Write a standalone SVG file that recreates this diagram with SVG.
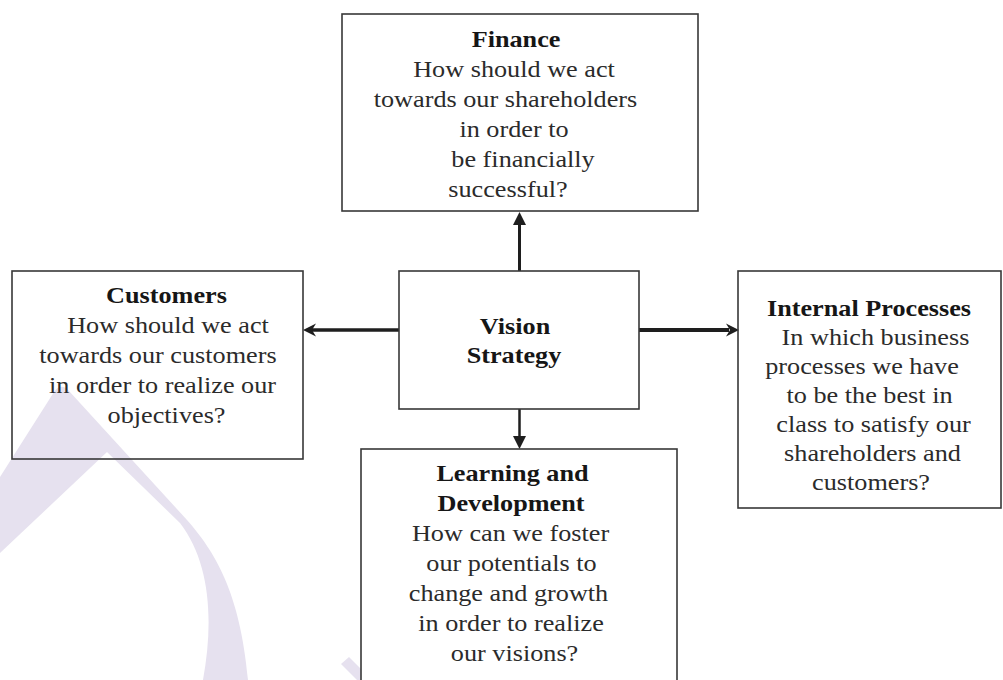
<svg xmlns="http://www.w3.org/2000/svg" width="1003" height="680" viewBox="0 0 1003 680">
<style>
.box{fill:none;stroke:#383838;stroke-width:1.6}
.t{font-family:"Liberation Serif","Times New Roman",serif;font-size:23px;fill:#2b2b2b;text-anchor:middle}
.b{font-weight:bold;fill:#161616}
.wm{fill:#e6e1ef}
.ln{stroke:#1e1e1e;fill:none}
.hd{fill:#1e1e1e}
</style>
<rect width="1003" height="680" fill="#ffffff"/>
<g id="watermark">
<path class="wm" d="M0 477 L54 392 Q61 382 69 391 L187 520 C215 552 240 592 248 680 L203 680 C214 620 210 562 180 523 L107 452 L0 553 Z"/>
<polygon class="wm" points="341,664 349,657 361,669 361,680 357,680"/>
</g>
<g id="connectors">
<line class="ln" x1="519.5" y1="271" x2="519.5" y2="222" stroke-width="3"/>
<polygon class="hd" points="519.5,212 513,225 526,225"/>
<line class="ln" x1="399" y1="330" x2="312" y2="330" stroke-width="3.5"/>
<polygon class="hd" points="303,330 316,323.5 312,330 316,336.5"/>
<line class="ln" x1="639" y1="330" x2="729" y2="330" stroke-width="4"/>
<polygon class="hd" points="739,330 726,323.5 730,330 726,336.5"/>
<line class="ln" x1="519.5" y1="409" x2="519.5" y2="438" stroke-width="2.5"/>
<polygon class="hd" points="519.5,449 513,436 526,436"/>
</g>
<g id="finance">
<rect class="box" x="342" y="14" width="356" height="197"/>
<g transform="translate(514,0) scale(1.14,1)">
<text class="t b" x="1.8" y="47">Finance</text>
<text class="t" x="0" y="77">How should we act</text>
<text class="t" x="-7.5" y="107">towards our shareholders</text>
<text class="t" x="0" y="137">in order to</text>
<text class="t" x="7.9" y="167">be financially</text>
<text class="t" x="-5.3" y="197">successful?</text>
</g>
</g>
<g id="customers">
<rect class="box" x="12" y="271" width="291" height="188"/>
<g transform="translate(164,0) scale(1.14,1)">
<text class="t b" x="2.2" y="303">Customers</text>
<text class="t" x="3.5" y="333">How should we act</text>
<text class="t" x="-5.3" y="363">towards our customers</text>
<text class="t" x="-1.3" y="393">in order to realize our</text>
<text class="t" x="2.2" y="423">objectives?</text>
</g>
</g>
<g id="vision">
<rect class="box" x="399" y="271" width="240" height="138"/>
<g transform="translate(515,0) scale(1.14,1)">
<text class="t b" x="0" y="334">Vision</text>
<text class="t b" x="-0.9" y="363">Strategy</text>
</g>
</g>
<g id="internal">
<rect class="box" x="738" y="271" width="263" height="237"/>
<g transform="translate(870,0) scale(1.14,1)">
<text class="t b" x="-0.9" y="316">Internal Processes</text>
<text class="t" x="4.8" y="345">In which business</text>
<text class="t" x="-7" y="374">processes we have</text>
<text class="t" x="-0.4" y="403">to be the best in</text>
<text class="t" x="3.1" y="432">class to satisfy our</text>
<text class="t" x="2.2" y="461">shareholders and</text>
<text class="t" x="0.9" y="490">customers?</text>
</g>
</g>
<g id="learning">
<rect class="box" x="361" y="449" width="316" height="240"/>
<g transform="translate(511,0) scale(1.14,1)">
<text class="t b" x="1.3" y="481">Learning and</text>
<text class="t b" x="0" y="511">Development</text>
<text class="t" x="-0.4" y="541">How can we foster</text>
<text class="t" x="0.4" y="571">our potentials to</text>
<text class="t" x="-2.2" y="601">change and growth</text>
<text class="t" x="0" y="631">in order to realize</text>
<text class="t" x="3.1" y="661">our visions?</text>
</g>
</g>
</svg>
